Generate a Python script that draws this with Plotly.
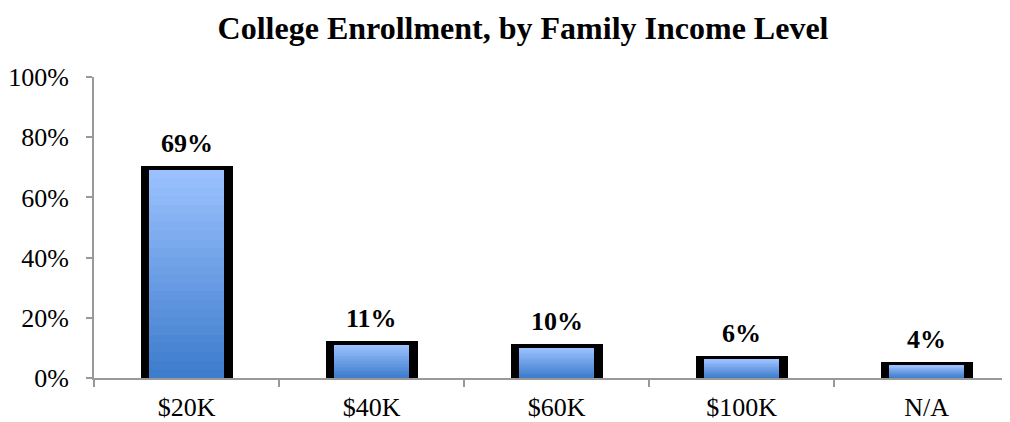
"""College enrollment by family income level — gradient bar chart."""

import plotly.graph_objects as go

CATEGORIES = ["$20K", "$40K", "$60K", "$100K", "N/A"]
ENROLLMENT_PCT = [69, 11, 10, 6, 4]
Y_TICKS = [0, 20, 40, 60, 80, 100]
Y_TICK_LABELS = [f"{v}%" for v in Y_TICKS]

FONT = "Liberation Serif"
GRAD_BOTTOM = (60, 123, 203)
GRAD_TOP = (156, 194, 255)
STEPS = 24


def mix(t):
    r, g, b = (round(a + (c - a) * t) for a, c in zip(GRAD_BOTTOM, GRAD_TOP))
    return f"rgb({r},{g},{b})"


fig = go.Figure()

# black frame behind each bar
fig.add_trace(
    go.Bar(
        x=CATEGORIES,
        y=ENROLLMENT_PCT,
        width=0.454,
        marker=dict(color="black", line=dict(color="black", width=8)),
        hoverinfo="skip",
        showlegend=False,
    )
)

# gradient: overlapping opaque bars, each starting a bit higher and lighter
for k in range(STEPS):
    frac = k / STEPS
    fig.add_trace(
        go.Bar(
            x=CATEGORIES,
            base=[v * frac for v in ENROLLMENT_PCT],
            y=[v * (1 - frac) for v in ENROLLMENT_PCT],
            width=0.405,
            marker=dict(color=mix((k + 0.5) / STEPS), line=dict(width=0)),
            hoverinfo="skip",
            showlegend=False,
        )
    )

for cat, val in zip(CATEGORIES, ENROLLMENT_PCT):
    fig.add_annotation(
        x=cat, y=val, text=f"<b>{val}%</b>", showarrow=False,
        yanchor="bottom", yshift=10,
        font=dict(family=FONT, size=26, color="black"),
    )

# the page body has an 8px margin, so the figure is sized and shifted to fit
fig.update_layout(
    width=1002,
    height=414,
    barmode="overlay",
    bargap=0,
    plot_bgcolor="white",
    paper_bgcolor="white",
    margin=dict(l=86, r=0, t=69, b=42),
    font=dict(family=FONT, size=26, color="black"),
    title=dict(
        text="<b>College Enrollment, by Family Income Level</b>",
        x=0.514, xanchor="center", y=0.952, yanchor="middle",
        font=dict(family=FONT, size=32, color="black"),
    ),
    xaxis=dict(
        range=[-0.5, 4.45],
        showline=True, linecolor="#999999", linewidth=2,
        ticks="outside", tickson="boundaries", ticklen=7, tickwidth=2, tickcolor="#999999",
        showgrid=False, zeroline=False,
        ticklabelstandoff=5,
    ),
    yaxis=dict(
        range=[0, 100],
        tickvals=Y_TICKS, ticktext=Y_TICK_LABELS,
        showline=True, linecolor="#999999", linewidth=2,
        ticks="outside", ticklen=6, tickwidth=2, tickcolor="#999999",
        showgrid=False, zeroline=False,
        ticklabelstandoff=12,
    ),
)

fig.write_html("out.html")
